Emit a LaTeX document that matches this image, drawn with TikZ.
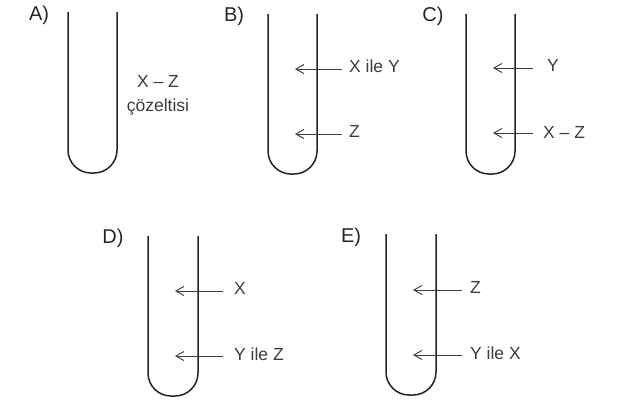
\documentclass[tikz,border=0pt]{standalone}
\usepackage{fontspec}
\setmainfont{Liberation Sans}
\usetikzlibrary{arrows.meta,positioning}
\definecolor{TubeInk}{RGB}{35,35,35}
\definecolor{LabelInk}{RGB}{60,60,60}
\begin{document}
\begin{tikzpicture}[
    x=1pt, y=-1pt,
    lbl/.style={font=\fontsize{17.5}{24}\selectfont, text=LabelInk, inner sep=0pt, align=center},
    tag/.style={font=\fontsize{20}{22}\selectfont, text=black!85, inner sep=0pt},
    tube/.style={draw=TubeInk, line width=1.5pt, rounded corners=23pt},
    arrow/.style={{Straight Barb[length=8pt,width=9pt]}-, draw=LabelInk, line width=0.9pt}
]
    \useasboundingbox (0,0) rectangle (617,400);
    % test tubes
    \draw[tube] (68,12) -- (68,173) -- (117,173) -- (117,12);
    \draw[tube] (268,14) -- (268,174) -- (317,174) -- (317,14);
    \draw[tube] (466,14) -- (466,174) -- (515,174) -- (515,14);
    \draw[tube] (148,236) -- (148,396) -- (198,396) -- (198,236);
    \draw[tube] (386,234) -- (386,395) -- (436,395) -- (436,234);

    \node[tag] (tagA) at (39,15) {A)};
    \node[tag] (tagB) at (234,16) {B)};
    \node[tag] (tagC) at (433,16) {C)};
    \node[tag] (tagD) at (113,238) {D)};
    \node[tag] (tagE) at (351,237) {E)};

    \node[lbl] (solA) at (158,95) {X -- Z\\çözeltisi};

    \node[lbl, anchor=west] (xyB) at (349,66) {X ile Y};
    \node[lbl, anchor=west] (zB) at (349,131) {Z};
    \node[lbl, anchor=west] (yC) at (547,65) {Y};
    \node[lbl, anchor=west] (xzC) at (543,132) {X -- Z};
    \node[lbl, anchor=west] (xD) at (234,288) {X};
    \node[lbl, anchor=west] (yzD) at (234,354) {Y ile Z};
    \node[lbl, anchor=west] (zE) at (470,287) {Z};
    \node[lbl, anchor=west] (yxE) at (470,353) {Y ile X};

    \coordinate (xyBend) at (295,69);
    \coordinate (zBend) at (295,134);
    \coordinate (yCend) at (493,68);
    \coordinate (xzCend) at (493,133);
    \coordinate (xDend) at (175,291);
    \coordinate (yzDend) at (175,356);
    \coordinate (zEend) at (413,290);
    \coordinate (yxEend) at (413,355);

    \draw[arrow, shorten >=7pt] (xyBend) -- (xyBend -| xyB.west);
    \draw[arrow, shorten >=7pt] (zBend) -- (zBend -| zB.west);
    \draw[arrow, shorten >=14pt] (yCend) -- (yCend -| yC.west);
    \draw[arrow, shorten >=10pt] (xzCend) -- (xzCend -| xzC.west);
    \draw[arrow, shorten >=11pt] (xDend) -- (xDend -| xD.west);
    \draw[arrow, shorten >=11pt] (yzDend) -- (yzDend -| yzD.west);
    \draw[arrow, shorten >=8pt] (zEend) -- (zEend -| zE.west);
    \draw[arrow, shorten >=8pt] (yxEend) -- (yxEend -| yxE.west);
\end{tikzpicture}
\end{document}
